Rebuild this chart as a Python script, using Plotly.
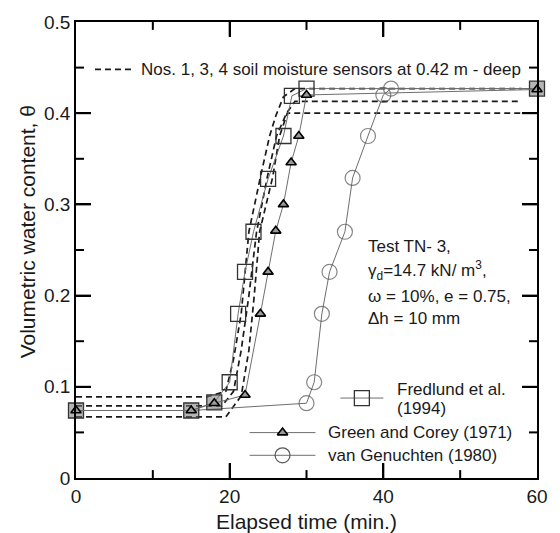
import plotly.graph_objects as go

# ---------------- data ----------------
fred_t = [0, 15, 18, 20, 21.1, 22, 23.1, 25, 27, 28.1, 30, 60]
fred_theta = [0.074, 0.074, 0.083, 0.105, 0.180, 0.226, 0.270, 0.328, 0.375, 0.419, 0.427, 0.427]

green_t = [0, 15, 18, 22, 24, 25, 26, 27, 28, 29, 30, 60]
green_theta = [0.074, 0.074, 0.082, 0.091, 0.180, 0.226, 0.271, 0.300, 0.346, 0.375, 0.420, 0.426]

vg_t = [0, 15, 30, 31, 32, 33, 35, 36, 38, 40, 41, 60]
vg_theta = [0.074, 0.074, 0.082, 0.105, 0.180, 0.226, 0.270, 0.329, 0.375, 0.420, 0.427, 0.427]

s1_t = [0, 17, 19.5, 20.5, 21.5, 22.5, 24, 25.2, 26, 27, 28.5, 58]
s1_theta = [0.089, 0.089, 0.095, 0.130, 0.180, 0.270, 0.330, 0.375, 0.397, 0.418, 0.427, 0.427]

s2_t = [0, 19, 20.5, 21.5, 22.5, 23.5, 24.9, 26.1, 27.4, 28.5, 57.5]
s2_theta = [0.079, 0.079, 0.095, 0.140, 0.200, 0.270, 0.330, 0.375, 0.400, 0.413, 0.413]

s3_t = [0, 19.5, 21.5, 22.5, 23.2, 23.9, 25.6, 26.5, 27.5, 58]
s3_theta = [0.067, 0.067, 0.090, 0.140, 0.200, 0.270, 0.330, 0.375, 0.400, 0.400]

x_ticks = [0, 20, 40, 60]
x_minor = [10, 30, 50]
y_ticks = [0, 0.1, 0.2, 0.3, 0.4, 0.5]
y_minor = [0.05, 0.15, 0.25, 0.35, 0.45]

# ---------------- styling ----------------
FONT = "Liberation Sans, Arial, sans-serif"
TXT = "#1a1a1a"
GRAY_LINE = "#6e6e6e"

W, H = 560, 533
L, R, T, B = 76, 22, 16, 55
PW, PH = W - L - R, H - T - B
XMAX, YMAX = 60.0, 0.5
MAJ, MIN = 15, 8


def px(xp):
    return (xp - L) / PW


def py(yp):
    return (H - B - yp) / PH


def dx(xp):  # pixel -> data x (for legend samples)
    return px(xp) * XMAX


def dy(yp):
    return py(yp) * YMAX


fill_sq = ["rgba(120,120,120,0.55)" if t in (0, 15, 18, 60) else "rgba(0,0,0,0)" for t in fred_t]
vg_sizes = [0 if t in (0, 15, 60) else 15 for t in vg_t]

fig = go.Figure()

# ---- inside tick marks on all four sides (built from the tick lists) ----
tx, ty = [], []
for vals, ln in [(x_ticks, MAJ), (x_minor, MIN)]:
    h = ln / PH * YMAX
    for v in vals:
        if v in (0, XMAX):
            continue
        tx += [v, v, None, v, v, None]
        ty += [0, h, None, YMAX, YMAX - h, None]
for vals, ln in [(y_ticks, MAJ), (y_minor, MIN)]:
    w = ln / PW * XMAX
    for v in vals:
        if v in (0, YMAX):
            continue
        tx += [0, w, None, XMAX, XMAX - w, None]
        ty += [v, v, None, v, v, None]
fig.add_trace(go.Scatter(x=tx, y=ty, mode="lines", line=dict(color="#000000", width=2),
                         showlegend=False, hoverinfo="skip", connectgaps=False))

for st, sv in [(s1_t, s1_theta), (s2_t, s2_theta), (s3_t, s3_theta)]:
    fig.add_trace(go.Scatter(x=st, y=sv, mode="lines",
                             line=dict(color="#1a1a1a", width=1.7, dash="6px,4px"),
                             showlegend=False, hoverinfo="skip"))

fig.add_trace(go.Scatter(x=vg_t, y=vg_theta, mode="lines+markers",
                         line=dict(color=GRAY_LINE, width=1),
                         marker=dict(symbol="circle", size=vg_sizes, color="rgba(0,0,0,0)",
                                     line=dict(color="#555555", width=1.2)),
                         cliponaxis=False, showlegend=False))

fig.add_trace(go.Scatter(x=fred_t, y=fred_theta, mode="lines+markers",
                         line=dict(color=GRAY_LINE, width=1),
                         marker=dict(symbol="square", size=15, color=fill_sq,
                                     line=dict(color="#333333", width=1.3)),
                         cliponaxis=False, showlegend=False))

fig.add_trace(go.Scatter(x=green_t, y=green_theta, mode="lines+markers",
                         line=dict(color=GRAY_LINE, width=1),
                         marker=dict(symbol="triangle-up", size=9, color="#9a9a9a",
                                     line=dict(color="#000000", width=1.6)),
                         cliponaxis=False, showlegend=False))

# ---- hand-drawn legend samples ----
leg_items = [
    dict(x0=341, x1=384, xm=362.5, y=397, sym="square", size=15, fill="rgba(0,0,0,0)", lc="#333333", lw=1.3),
    dict(x0=250, x1=316, xm=283, y=432, sym="triangle-up", size=9, fill="#9a9a9a", lc="#000000", lw=1.6),
    dict(x0=250, x1=316, xm=283, y=455, sym="circle", size=15, fill="rgba(0,0,0,0)", lc="#555555", lw=1.2),
]
for it in leg_items:
    fig.add_trace(go.Scatter(x=[dx(it["x0"]), dx(it["x1"])], y=[dy(it["y"]), dy(it["y"])],
                             mode="lines", line=dict(color=GRAY_LINE, width=1),
                             showlegend=False, hoverinfo="skip"))
    fig.add_trace(go.Scatter(x=[dx(it["xm"])], y=[dy(it["y"])], mode="markers",
                             marker=dict(symbol=it["sym"], size=it["size"], color=it["fill"],
                                         line=dict(color=it["lc"], width=it["lw"])),
                             showlegend=False, hoverinfo="skip", cliponaxis=False))

ann = []
ann.append(dict(x=px(396), y=py(388), text="Fredlund et al."))
ann.append(dict(x=px(396), y=py(408), text="(1994)"))
ann.append(dict(x=px(327), y=py(432), text="Green and Corey (1971)"))
ann.append(dict(x=px(327), y=py(455), text="van Genuchten (1980)"))

ann.append(dict(x=px(367), y=py(243), text="Test TN- 3,"))
ann.append(dict(x=px(367), y=py(268), text="γ<sub>d</sub>=14.7 kN/ m<sup>3</sup>,"))
ann.append(dict(x=px(367), y=py(294), text="ω = 10%, e = 0.75,"))
ann.append(dict(x=px(367), y=py(316), text="Δh = 10 mm"))

ann.append(dict(x=px(139), y=py(64), text="Nos. 1, 3, 4 soil moisture sensors at 0.42 m - deep"))

annotations = []
for a in ann:
    annotations.append(dict(x=a["x"], y=a["y"], xref="paper", yref="paper", text=a["text"],
                            xanchor="left", yanchor="middle", showarrow=False,
                            font=dict(family=FONT, size=17, color=TXT)))

annotations.append(dict(x=px(27), y=py(229), xref="paper", yref="paper",
                        text="Volumetric water content, θ", textangle=-90,
                        xanchor="center", yanchor="middle", showarrow=False,
                        font=dict(family=FONT, size=21, color=TXT)))
annotations.append(dict(x=px(307), y=py(522), xref="paper", yref="paper",
                        text="Elapsed time (min.)",
                        xanchor="center", yanchor="middle", showarrow=False,
                        font=dict(family=FONT, size=21, color=TXT)))

fig.add_shape(type="line", xref="paper", yref="paper",
              x0=px(95), x1=px(133), y0=py(64), y1=py(64),
              line=dict(color="#1a1a1a", width=1.7, dash="6px,4px"))

axis_common = dict(showline=True, linecolor="#000000", linewidth=1.8, mirror="ticks",
                   ticks="inside", ticklen=MAJ, tickwidth=2, tickcolor="#000000",
                   showgrid=False, zeroline=False,
                   tickfont=dict(family=FONT, size=19, color=TXT))

fig.update_layout(
    width=W, height=H,
    margin=dict(l=L, r=R, t=T, b=B, pad=0),
    paper_bgcolor="white", plot_bgcolor="white",
    showlegend=False,
    xaxis=dict(range=[0, XMAX], tickvals=x_ticks, ticktext=[str(v) for v in x_ticks], **axis_common),
    yaxis=dict(range=[0, YMAX], tickvals=y_ticks, ticktext=["0", "0.1", "0.2", "0.3", "0.4", "0.5"],
               **axis_common),
    annotations=annotations,
)

fig.write_html("out.html")
